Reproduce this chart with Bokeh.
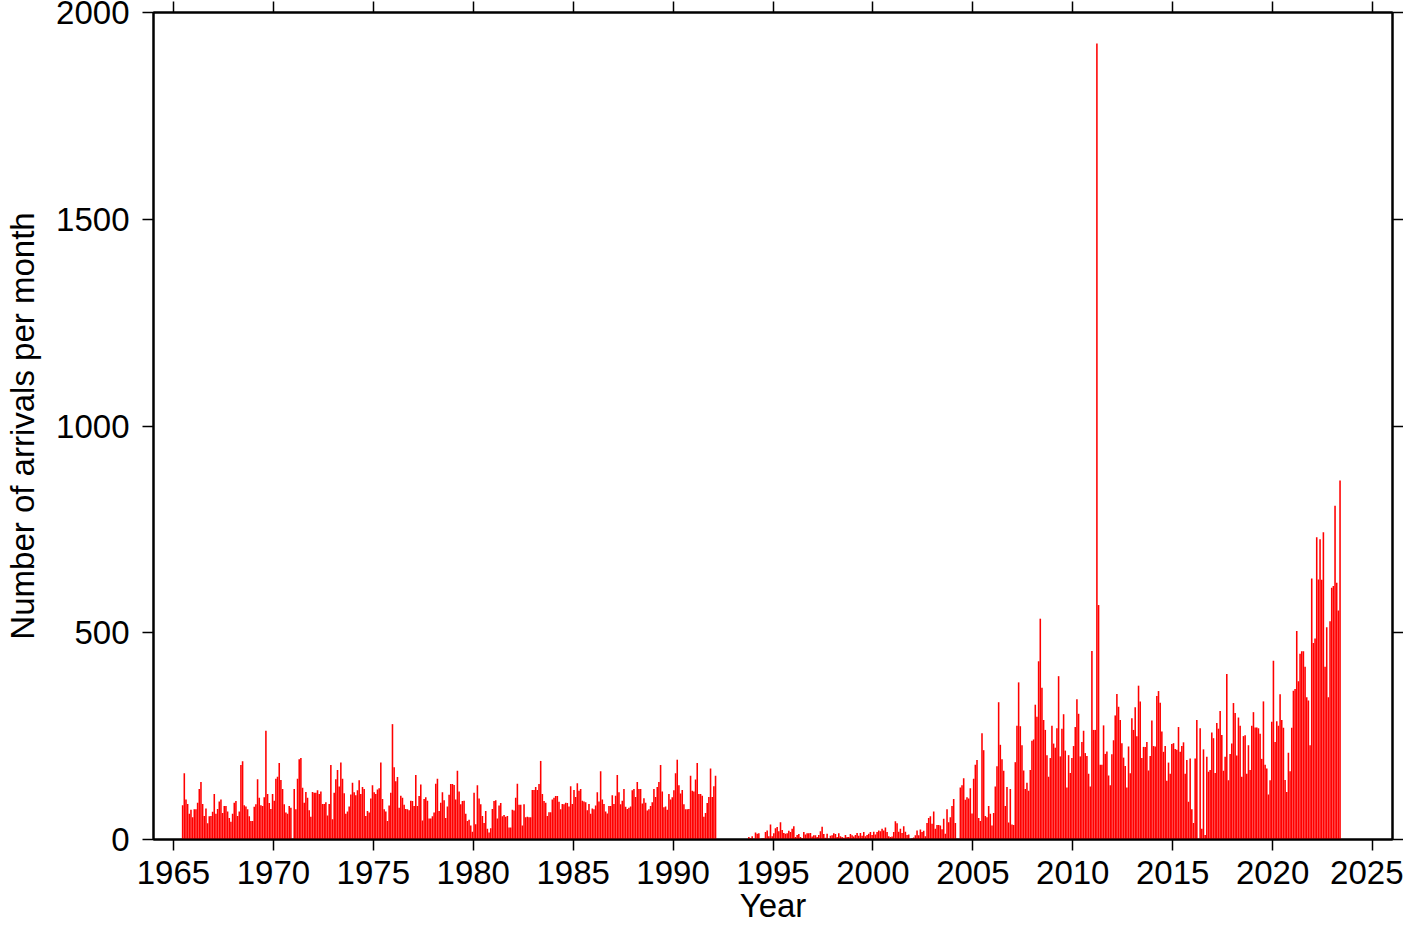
import numpy as np
from bokeh.plotting import figure
from bokeh.models import FixedTicker, LinearAxis, ColumnDataSource, Range1d
from bokeh.embed import file_html
from bokeh.resources import INLINE

# ---- data: monthly arrival counts ----
seg1_start = (1965, 6)   # first month of first segment (year, month)
seg1_counts = [
    83, 160, 97, 86, 62, 72, 54, 73, 73, 89,
    122, 139, 86, 57, 75, 39, 56, 57, 67, 110,
    62, 74, 92, 97, 64, 81, 81, 68, 52, 43,
    62, 89, 93, 57, 68, 180, 189, 83, 80, 73,
    56, 45, 45, 79, 85, 146, 101, 83, 81, 102,
    263, 110, 88, 74, 110, 94, 147, 152, 185, 144,
    122, 85, 65, 62, 81, 77, 0, 122, 73, 147,
    194, 197, 125, 89, 115, 101, 71, 55, 115,
    113, 113, 119, 110, 116, 86, 86, 90, 58, 86,
    180, 49, 113, 146, 168, 128, 186, 147, 112, 62,
    68, 80, 109, 137, 114, 107, 119, 143, 110, 127,
    122, 57, 69, 65, 99, 131, 114, 110, 121, 124,
    186, 98, 73, 68, 45, 82, 113, 279, 175, 141,
    151, 77, 106, 101, 84, 74, 73, 71, 94, 93,
    81, 156, 81, 105, 133, 46, 98, 102, 94, 51,
    51, 56, 65, 135, 147, 69, 89, 114, 95, 52,
    80, 108, 134, 134,
    132, 97, 166, 116, 85, 93, 94, 62, 45, 48,
    34, 19, 113, 37, 131, 99, 85, 57, 40, 69,
    26, 17, 27, 74, 93, 95, 51, 82, 88, 56,
    59, 55, 57, 29, 29, 72, 70, 101, 135, 84,
    84, 34, 85, 54, 55, 54, 54, 120, 120, 127,
    120, 134, 190, 110, 93, 89, 57, 66, 66, 97,
    101, 105, 105, 91, 73, 86, 85, 89, 88, 80,
    129, 86, 120, 103, 136, 118, 122, 94, 92, 90,
    71, 86, 62, 75,
    73, 82, 114, 92, 165, 97, 86, 68, 63, 81,
    81, 107, 86, 106, 156, 114, 85, 94, 122, 79,
    74, 77, 80, 119, 122, 103, 139, 122, 122, 87,
    100, 89, 70, 73, 81, 90, 122, 103, 127, 139,
    180, 116, 78, 80, 72, 110, 97, 102, 119, 160,
    193, 131, 111, 120, 85, 73, 73, 74, 154, 118,
    116, 145, 185, 110, 110, 106, 55, 64, 88, 103,
    172, 103, 129, 154,
]

seg2_start = (1993, 10)
seg2_counts = [
    6, 3, 8, 0, 17, 14, 15, 0, 3, 3,
    18, 22, 8, 36, 8, 15, 27, 30, 20, 42,
    23, 16, 14, 15, 21, 18, 26, 32, 6, 11,
    13, 6, 3, 18, 12, 15, 15, 16, 7, 10,
    10, 6, 11, 20, 31, 13, 4, 14, 2, 9,
    10, 15, 13, 6, 15, 8, 6, 4, 11, 6,
    6, 13, 10, 7, 11, 16, 9, 16, 9, 18,
    8, 11, 14, 18, 11, 19, 12, 18, 22, 20,
    26, 22, 29, 18, 8, 6, 7, 18, 44, 39,
    19, 26, 16, 32, 19, 11, 12, 1, 3, 5,
    10, 22, 10, 24, 18, 21, 8, 40, 52, 56,
    38, 68, 26, 35, 35, 34, 25, 50, 14, 73,
    42, 54, 81, 98,
    40, 2, 0, 126, 131, 148, 96, 102, 99, 124,
    63, 147, 181, 192, 52, 45, 257, 216, 57, 54,
    81, 62, 34, 64, 128, 177, 332, 229, 194, 166,
    81, 127, 41, 122, 36, 35, 187, 275, 380, 274,
    228, 167, 122, 137, 118, 168, 239, 242, 326, 297,
    431, 534, 367, 289, 265, 204, 152, 197, 275, 232,
    222, 269, 395, 201, 268, 303, 215, 126, 204, 161,
    197, 226, 272, 339,
    304, 201, 236, 263, 209, 202, 159, 128, 456, 265,
    265, 1925, 567, 181, 181, 276, 207, 213, 155, 131,
    206, 240, 300, 352, 321, 289, 233, 198, 178, 126,
    225, 160, 293, 265, 320, 250, 372, 334, 197, 224,
    224, 236, 167, 202, 288, 226, 225, 347, 359, 331,
    261, 212, 226, 142, 186, 159, 231, 233, 219, 217,
    272, 212, 226, 235, 159, 192, 91, 196, 73, 40,
    196, 289, 0, 269, 26, 218, 11, 200, 164, 168,
    259, 245, 161, 282,
    268, 311, 253, 166, 200, 400, 143, 207, 232, 330,
    306, 203, 295, 275, 152, 250, 252, 159, 228, 168,
    275, 308, 271, 271, 269, 256, 195, 334, 181, 172,
    109, 143, 285, 432, 236, 286, 275, 351, 289, 270,
    144, 115, 210, 165, 270, 360, 364, 504, 383, 449,
    455, 455, 418, 344, 336, 228, 631, 475, 486, 731,
    629, 726, 628, 743, 418, 513, 344, 528, 609, 613,
    807, 621, 554, 868,
]

x_ticks = [1965, 1970, 1975, 1980, 1985, 1990, 1995, 2000, 2005, 2010, 2015, 2020, 2025]
y_ticks = [0, 500, 1000, 1500, 2000]
x_label = "Year"
y_label = "Number of arrivals per month"


def month_centers(start, n):
    yr, mo = start
    return [yr + (mo - 1 + i + 0.5) / 12.0 for i in range(n)]


xs = month_centers(seg1_start, len(seg1_counts)) + month_centers(seg2_start, len(seg2_counts))
tops = seg1_counts + seg2_counts
src = ColumnDataSource(dict(x=xs, top=tops))

FONT = "Liberation Sans"

p = figure(width=1403, height=926,
           x_range=Range1d(1964, 2026), y_range=Range1d(0, 2000),
           output_backend="svg", toolbar_location=None,
           min_border_left=153, min_border_right=11,
           min_border_top=12, min_border_bottom=87)

p.vbar(x="x", top="top", source=src, width=0.94 / 12,
       fill_color="#ff0000", line_color=None)

p.xgrid.visible = False
p.ygrid.visible = False
p.outline_line_color = "black"
p.outline_line_width = 2
p.background_fill_color = "white"
p.border_fill_color = "white"


def style_axis(ax, ticks, tick_out):
    ax.ticker = FixedTicker(ticks=ticks)
    ax.major_tick_out = tick_out
    ax.major_tick_in = 0
    ax.minor_tick_out = 0
    ax.minor_tick_in = 0
    ax.axis_line_color = "black"
    ax.axis_line_width = 2
    ax.major_tick_line_color = "black"
    ax.major_tick_line_width = 1.5
    ax.major_label_text_font = FONT
    ax.major_label_text_font_size = "33px"
    ax.major_label_text_color = "black"
    ax.axis_label_text_font = FONT
    ax.axis_label_text_font_size = "33px"
    ax.axis_label_text_font_style = "normal"
    ax.axis_label_text_color = "black"


xa = p.xaxis[0]
style_axis(xa, x_ticks, 11)
xa.axis_label = x_label
xa.major_label_standoff = 10
xa.axis_label_standoff = 0

ya = p.yaxis[0]
style_axis(ya, y_ticks, 11)
ya.axis_label = y_label
ya.major_label_standoff = 13
ya.axis_label_standoff = 12


def blank_axis(ax, ticks):
    ax.major_label_overrides = {t: "" for t in ticks}
    ax.major_label_text_font_size = "1px"
    ax.major_label_standoff = 0


top_ax = LinearAxis()
style_axis(top_ax, x_ticks, 11)
blank_axis(top_ax, x_ticks)
p.add_layout(top_ax, "above")

right_ax = LinearAxis()
style_axis(right_ax, y_ticks, 11)
blank_axis(right_ax, y_ticks)
p.add_layout(right_ax, "right")

open("out.html", "w").write(file_html(p, INLINE))
